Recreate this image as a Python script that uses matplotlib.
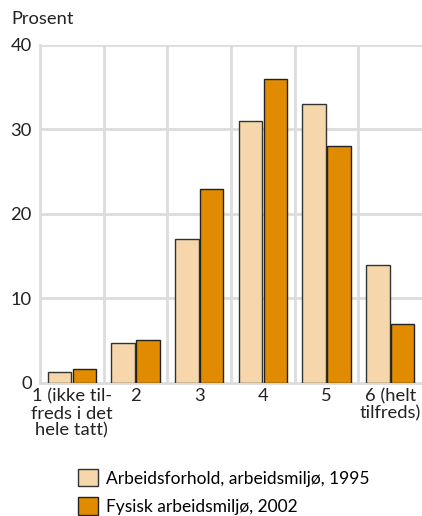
import matplotlib
matplotlib.use("Agg")
import matplotlib.pyplot as plt
import numpy as np

plt.rcParams["font.family"] = ["Lato", "DejaVu Sans"]

categories = ["1 (ikke til-\nfreds i det\nhele tatt)", "2", "3", "4", "5", "6 (helt\ntilfreds)"]
series_names = ["Arbeidsforhold, arbeidsmiljø, 1995", "Fysisk arbeidsmiljø, 2002"]
values_1995 = [1.3, 4.7, 17, 31, 33, 14]
values_2002 = [1.6, 5.1, 23, 36, 28, 7]

LIGHT = "#f6d7ab"
ORANGE = "#e08b00"
GRID = "#dcdcdc"
TXT = "#222222"
FS = 13.2

fig = plt.figure(figsize=(4.22, 5.16), dpi=100)
ax = fig.add_axes([0.095, 0.258, 0.905, 0.655])

x = np.arange(len(categories))
w = 0.37
b1 = ax.bar(x - 0.195, values_1995, w, color=LIGHT, edgecolor="#333333", linewidth=1, zorder=3,
            label=series_names[0])
b2 = ax.bar(x + 0.195, values_2002, w, color=ORANGE, edgecolor="#222222", linewidth=1, zorder=3,
            label=series_names[1])

ax.set_xlim(-0.5, 5.5)
ax.set_ylim(0, 40)
ax.set_yticks([0, 10, 20, 30, 40])
ax.set_xticks(x)
ax.set_xticklabels(categories, fontsize=FS, color=TXT, linespacing=1.08)
ax.tick_params(axis="y", labelsize=FS, length=0, pad=6, colors=TXT)
ax.tick_params(axis="x", length=0, pad=4, colors=TXT)

# grid: horizontal at ticks, vertical between groups
for yv in [10, 20, 30, 40]:
    ax.axhline(yv, color=GRID, linewidth=2, zorder=1)
for xv in np.arange(0.5, 5.5, 1.0):
    ax.axvline(xv, color=GRID, linewidth=2, zorder=1)

for s in ["top", "right"]:
    ax.spines[s].set_visible(False)
ax.spines["left"].set_color(GRID)
ax.spines["left"].set_linewidth(2)
ax.spines["bottom"].set_color(GRID)
ax.spines["bottom"].set_linewidth(2)

fig.text(0.028, 0.947, "Prosent", fontsize=FS, color=TXT, va="bottom")

fig.legend(handles=[b1, b2], labels=series_names, loc="lower left",
           bbox_to_anchor=(0.185, 0.002), frameon=False, fontsize=12.5,
           handlelength=1.15, handleheight=1.15, handletextpad=0.45, labelspacing=0.63,
           borderaxespad=0.0, borderpad=0.0)

fig.savefig("out.png", dpi=100)
